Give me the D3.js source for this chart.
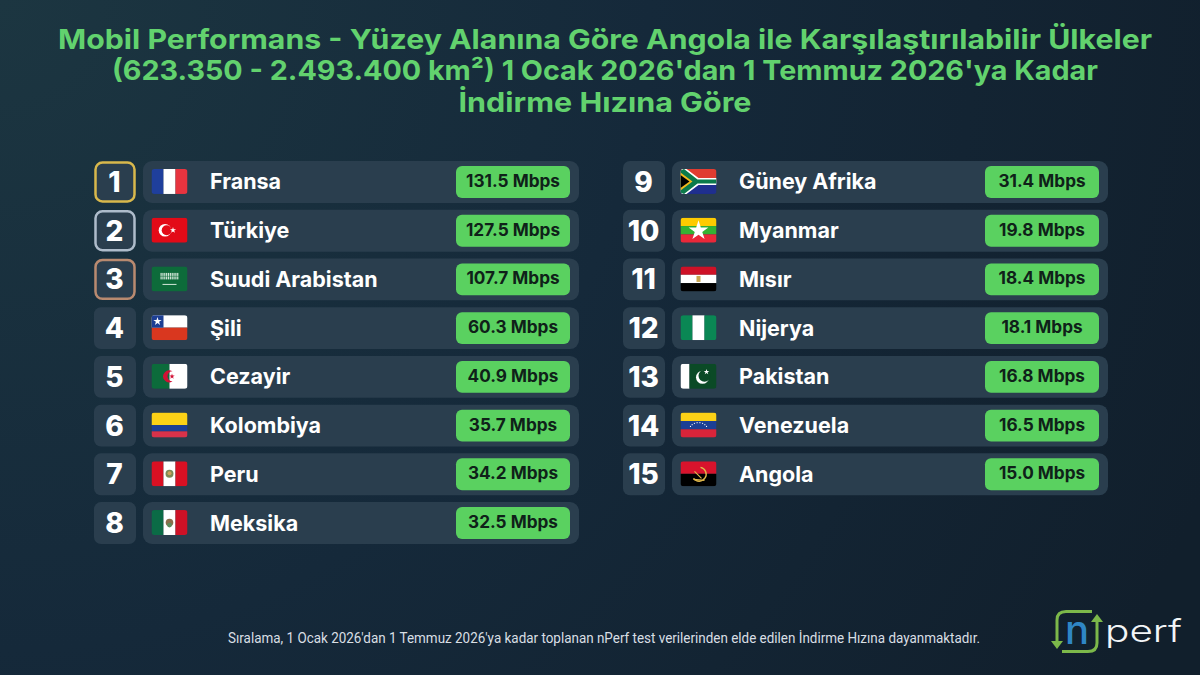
<!DOCTYPE html>
<html>
<head>
<meta charset="utf-8">
<script src="https://cdn.jsdelivr.net/npm/d3@7"></script>
<style>
  html, body { margin: 0; padding: 0; background: #14242f; }
  svg { display: block; }
  text { font-family: Inter, "Open Sans", sans-serif; }
</style>
</head>
<body>
<div id="chart"></div>
<script>
// Chart data
var titleLines = [
  "Mobil Performans - Yüzey Alanına Göre Angola ile Karşılaştırılabilir Ülkeler",
  "(623.350 - 2.493.400 km²) 1 Ocak 2026'dan 1 Temmuz 2026'ya Kadar",
  "İndirme Hızına Göre"
];
var titleWidths = [1094, 986, 293];
var countries = ["Fransa", "Türkiye", "Suudi Arabistan", "Şili", "Cezayir", "Kolombiya", "Peru", "Meksika",
  "Güney Afrika", "Myanmar", "Mısır", "Nijerya", "Pakistan", "Venezuela", "Angola"];
var speeds = [131.5, 127.5, 107.7, 60.3, 40.9, 35.7, 34.2, 32.5, 31.4, 19.8, 18.4, 18.1, 16.8, 16.5, 15.0];
var flagCodes = ["fr", "tr", "sa", "cl", "dz", "co", "pe", "mx", "za", "mm", "eg", "ng", "pk", "ve", "ao"];
var footNote = "Sıralama, 1 Ocak 2026'dan 1 Temmuz 2026'ya kadar toplanan nPerf test verilerinden elde edilen İndirme Hızına dayanmaktadır.";

var svgWidth = 1200;
var svgHeight = 675;
var perColumn = 8;

var svg = d3.select("#chart").append("svg")
  .attr("width", svgWidth)
  .attr("height", svgHeight);

var defs = svg.append("defs");

// Background
var bg = defs.append("radialGradient").attr("id", "bg")
  .attr("gradientUnits", "userSpaceOnUse")
  .attr("cx", 0).attr("cy", 0).attr("r", 1300);
bg.append("stop").attr("offset", "0%").attr("stop-color", "#1c3641");
bg.append("stop").attr("offset", "50%").attr("stop-color", "#15293a");
bg.append("stop").attr("offset", "100%").attr("stop-color", "#111f2c");
svg.append("rect").attr("width", svgWidth).attr("height", svgHeight).attr("fill", "url(#bg)");

// Title
svg.selectAll("text.title")
  .data(titleLines)
  .enter()
  .append("text")
  .attr("class", "title")
  .attr("x", 605)
  .attr("y", (d, i) => 49 + i * 31.3)
  .attr("text-anchor", "middle")
  .attr("font-size", 27.5)
  .attr("font-weight", 700)
  .attr("fill", "#62d26e")
  .attr("textLength", (d, i) => titleWidths[i])
  .attr("lengthAdjust", "spacingAndGlyphs")
  .text(d => d);

// Scales: one band per row, one offset per column
var rowScale = d3.scaleBand()
  .domain(d3.range(perColumn))
  .range([161, 544])
  .paddingInner(0.14);

var columnScale = d3.scaleOrdinal()
  .domain([0, 1])
  .range([94, 623]);

var rows = countries.map((name, i) => ({
  rank: i + 1,
  name: name,
  speed: speeds[i],
  flag: flagCodes[i],
  column: i < perColumn ? 0 : 1,
  row: i < perColumn ? i : i - perColumn
}));

var rankColors = { 1: "#d8b84c", 2: "#aebccb", 3: "#b98a70" };

var rowGroups = svg.selectAll("g.row")
  .data(rows)
  .enter()
  .append("g")
  .attr("class", "row")
  .attr("transform", d => `translate(${columnScale(d.column)}, ${rowScale(d.row)})`);

var rowH = rowScale.bandwidth();

// Rank box
rowGroups.append("rect")
  .attr("x", d => rankColors[d.rank] ? 1.5 : 0)
  .attr("y", d => rankColors[d.rank] ? 1.5 : 0)
  .attr("width", d => rankColors[d.rank] ? 39 : 42)
  .attr("height", d => rankColors[d.rank] ? rowH - 3 : rowH)
  .attr("rx", 7)
  .attr("fill", "#2a3e4e")
  .attr("stroke", d => rankColors[d.rank] || "none")
  .attr("stroke-width", 2.5);

rowGroups.append("text")
  .attr("x", 20.5)
  .attr("y", rowH / 2 + 10)
  .attr("text-anchor", "middle")
  .attr("font-size", 28)
  .attr("font-weight", 800)
  .attr("fill", "#ffffff")
  .text(d => d.rank);

// Row panel
rowGroups.append("rect")
  .attr("x", 49)
  .attr("width", 436)
  .attr("height", rowH)
  .attr("rx", 9)
  .attr("fill", "#2a3e4e");

// Country name
rowGroups.append("text")
  .attr("x", 116)
  .attr("y", rowH / 2 + 7.5)
  .attr("font-size", 21.5)
  .attr("font-weight", 700)
  .attr("fill", "#ffffff")
  .text(d => d.name);

// Speed pill
rowGroups.append("rect")
  .attr("x", 362)
  .attr("y", 5)
  .attr("width", 114)
  .attr("height", rowH - 10)
  .attr("rx", 6)
  .attr("fill", "#5ad160");

rowGroups.append("text")
  .attr("x", 419)
  .attr("y", rowH / 2 + 5)
  .attr("text-anchor", "middle")
  .attr("font-size", 17.2)
  .attr("font-weight", 700)
  .attr("fill", "#0f2119")
  .text(d => d.speed.toFixed(1) + " Mbps");

// Flags, drawn in a 36 x 25 box
defs.append("clipPath").attr("id", "flagClip")
  .append("rect").attr("width", 36).attr("height", 25).attr("rx", 3);

function band(g, x, y, w, h, color) {
  g.append("rect").attr("x", x).attr("y", y).attr("width", w).attr("height", h).attr("fill", color);
}
function poly(g, points, color) {
  g.append("polygon").attr("points", points).attr("fill", color);
}
function dot(g, x, y, r, color) {
  g.append("circle").attr("cx", x).attr("cy", y).attr("r", r).attr("fill", color);
}
function star(g, x, y, size, color) {
  g.append("path").attr("d", d3.symbol(d3.symbolStar).size(size)())
    .attr("transform", `translate(${x}, ${y})`).attr("fill", color);
}

var flagPainters = {
  fr: g => { band(g, 0, 0, 12, 25, "#1f3f9c"); band(g, 12, 0, 12, 25, "#ffffff"); band(g, 24, 0, 12, 25, "#e8343f"); },
  tr: g => {
    band(g, 0, 0, 36, 25, "#e30a17");
    dot(g, 13.5, 12.5, 6.3, "#ffffff"); dot(g, 15.2, 12.5, 5, "#e30a17");
    star(g, 21.5, 12.5, 12, "#ffffff");
  },
  sa: g => {
    band(g, 0, 0, 36, 25, "#0d6b3a");
    d3.range(10).forEach(i => {
      band(g, 9 + i * 1.85, 6.5, 1.2, 3, "#d5e8da");
      band(g, 9 + i * 1.85, 10, 1.2, 3, "#d5e8da");
    });
    band(g, 11, 17.5, 14, 1, "#d5e8da");
  },
  cl: g => {
    band(g, 0, 0, 36, 12.5, "#ffffff"); band(g, 0, 12.5, 36, 12.5, "#d9371f");
    band(g, 0, 0, 12, 12.5, "#1d3f94"); star(g, 6, 6.2, 22, "#ffffff");
  },
  dz: g => {
    band(g, 0, 0, 18, 25, "#0c6b3b"); band(g, 18, 0, 18, 25, "#ffffff");
    g.append("path").attr("d", "M21 7.5 A6 6 0 1 0 21 17.5 A4.8 4.8 0 1 1 21 7.5 Z").attr("fill", "#d21034");
    star(g, 20.5, 12.5, 9, "#d21034");
  },
  co: g => { band(g, 0, 0, 36, 12.5, "#fcd116"); band(g, 0, 12.5, 36, 6.25, "#1c3f94"); band(g, 0, 18.75, 36, 6.25, "#d9324a"); },
  pe: g => {
    band(g, 0, 0, 12, 25, "#d91023"); band(g, 12, 0, 12, 25, "#ffffff"); band(g, 24, 0, 12, 25, "#d91023");
    dot(g, 18, 12.5, 4, "#7d8a55"); dot(g, 18, 12, 2, "#c9a35a");
  },
  mx: g => {
    band(g, 0, 0, 12, 25, "#0b6b46"); band(g, 12, 0, 12, 25, "#ffffff"); band(g, 24, 0, 12, 25, "#ce1126");
    dot(g, 18, 12.5, 3.8, "#8a6d4b"); dot(g, 18, 15, 2.4, "#5c8a5a");
  },
  za: g => {
    band(g, 0, 0, 36, 12.5, "#e03c31"); band(g, 0, 12.5, 36, 12.5, "#1f2f8f");
    poly(g, "0,0 6,0 18,9 36,9 36,16 18,16 6,25 0,25", "#ffffff");
    poly(g, "0,1.5 3.5,0 17,10.5 36,10.5 36,14.5 17,14.5 3.5,25 0,23.5", "#0b7a4b");
    poly(g, "0,3.5 12,12.5 0,21.5", "#f4b81c");
    poly(g, "0,6 9,12.5 0,19", "#000000");
  },
  mm: g => {
    band(g, 0, 0, 36, 8.4, "#fecb00"); band(g, 0, 8.4, 36, 8.3, "#34b233"); band(g, 0, 16.7, 36, 8.3, "#ea2839");
    star(g, 18, 13, 120, "#ffffff");
  },
  eg: g => {
    band(g, 0, 0, 36, 8.4, "#ce1126"); band(g, 0, 8.4, 36, 8.3, "#ffffff"); band(g, 0, 16.7, 36, 8.3, "#000000");
    band(g, 16, 9.5, 4, 6, "#c9a54e");
  },
  ng: g => { band(g, 0, 0, 12, 25, "#0a8754"); band(g, 12, 0, 12, 25, "#ffffff"); band(g, 24, 0, 12, 25, "#0a8754"); },
  pk: g => {
    band(g, 0, 0, 9, 25, "#ffffff"); band(g, 9, 0, 27, 25, "#0b4a26");
    dot(g, 22, 13.5, 6.5, "#ffffff"); dot(g, 24, 12, 6, "#0b4a26");
    star(g, 26, 8, 10, "#ffffff");
  },
  ve: g => {
    band(g, 0, 0, 36, 8.4, "#fcd116"); band(g, 0, 8.4, 36, 8.3, "#1c3f94"); band(g, 0, 16.7, 36, 8.3, "#d9243a");
    d3.range(8).forEach(i => {
      var a = Math.PI * (1.15 + i * 0.1);
      dot(g, 18 + 9 * Math.cos(a), 17 + 7 * Math.sin(a), 0.6, "#ffffff");
    });
  },
  ao: g => {
    band(g, 0, 0, 36, 12.5, "#d8132c"); band(g, 0, 12.5, 36, 12.5, "#000000");
    g.append("path").attr("d", "M20 6 A7 7 0 1 1 13 17").attr("fill", "none").attr("stroke", "#e0b84a").attr("stroke-width", 1.4);
    g.append("path").attr("d", "M13 18 L24 19 M14 10 L21 17").attr("fill", "none").attr("stroke", "#e0b84a").attr("stroke-width", 1.2);
  }
};

rowGroups.append("g")
  .attr("transform", `translate(57.5, ${rowH / 2 - 13})`)
  .attr("clip-path", "url(#flagClip)")
  .each(function(d) { flagPainters[d.flag](d3.select(this)); });

// Foot note
svg.append("text")
  .attr("x", 604)
  .attr("y", 643)
  .attr("text-anchor", "middle")
  .attr("font-size", 14)
  .attr("fill", "#d9dfe4")
  .attr("style", "font-family: Roboto, sans-serif")
  .attr("textLength", 752)
  .attr("lengthAdjust", "spacingAndGlyphs")
  .text(footNote);

// nPerf logo
var logo = svg.append("g");
logo.append("path")
  .attr("d", "M1092 611.5 H1066 Q1057 611.5 1057 620 V644 M1062 651.5 H1088 Q1097 651.5 1097 643 V620")
  .attr("fill", "none").attr("stroke", "#7cb84a").attr("stroke-width", 3);
poly(logo, "1051,641 1063,641 1057,649", "#7cb84a");
poly(logo, "1091,622 1103,622 1097,614", "#7cb84a");
logo.append("text")
  .attr("x", 1077).attr("y", 644).attr("text-anchor", "middle")
  .attr("font-size", 40).attr("font-weight", 500).attr("fill", "#2f86c5")
  .text("n");
logo.append("text")
  .attr("x", 1105).attr("y", 642)
  .attr("font-size", 31).attr("font-weight", 300).attr("fill", "#f2f5f7")
  .attr("textLength", 77).attr("lengthAdjust", "spacingAndGlyphs")
  .text("perf");
</script>
</body>
</html>
